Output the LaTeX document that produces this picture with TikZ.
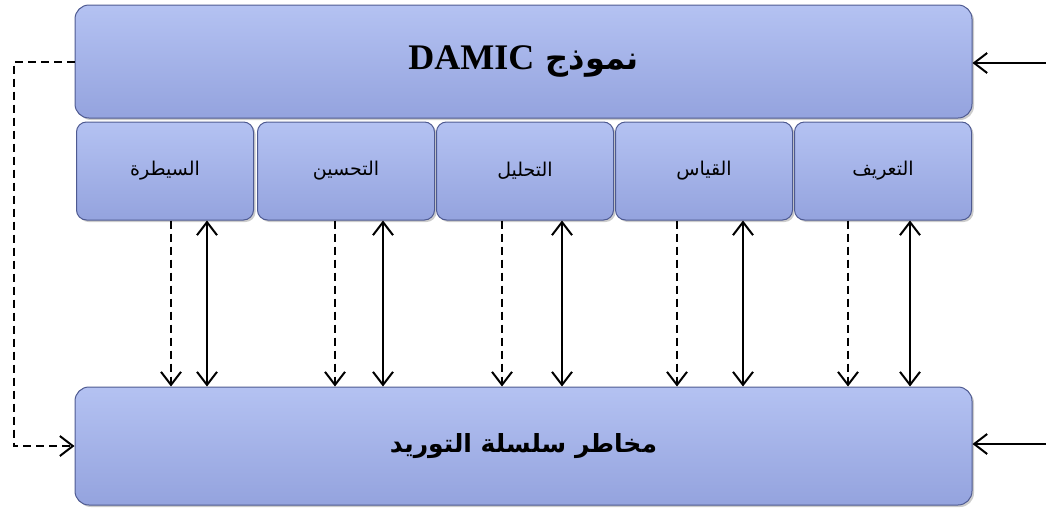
\documentclass[tikz,border=0pt]{standalone}
\usepackage{fontspec}
\setmainfont{Liberation Serif}
\newfontfamily\arabicfont[Script=Arabic]{DejaVu Sans}
\TeXXeTstate=1
\usetikzlibrary{arrows.meta,shadows}
\definecolor{boxtop}{RGB}{180,194,242}
\definecolor{boxbot}{RGB}{148,163,222}
\definecolor{boxedge}{RGB}{78,90,145}
\tikzset{
  bigbox/.style={rounded corners=14pt, top color=boxtop, bottom color=boxbot,
    draw=boxedge, line width=1pt, minimum width=897pt, inner sep=0pt,
    drop shadow={opacity=0.4, shadow xshift=2pt, shadow yshift=-2pt}},
  smallbox/.style={rounded corners=10pt, top color=boxtop, bottom color=boxbot,
    draw=boxedge, line width=1pt, minimum width=177pt, minimum height=98pt, inner sep=0pt,
    drop shadow={opacity=0.4, shadow xshift=2pt, shadow yshift=-2pt}},
  tip/.style={-{Straight Barb[length=13pt,width=20pt,line width=2pt]}},
  dtip/.style={{Straight Barb[length=13pt,width=20pt,line width=2pt]}-{Straight Barb[length=13pt,width=20pt,line width=2pt]}},
  conn/.style={line width=2pt, black},
  dconn/.style={line width=2pt, black, dash pattern=on 8pt off 5pt},
  smalltext/.style={font=\arabicfont\fontsize{19}{22}\selectfont},
}
\begin{document}
\begin{tikzpicture}[x=1pt,y=-1pt]
\useasboundingbox (0,0) rectangle (1046,509);
\node[bigbox, minimum height=113pt] (top) at (523.5,61.5)
  {\arabicfont\bfseries\fontsize{32}{36}\selectfont\beginR نموذج \beginL{\rmfamily\bfseries\fontsize{36}{40}\selectfont DAMIC}\endL\endR};
\node[bigbox, minimum height=118pt] (bottom) at (523.5,446)
  {\arabicfont\bfseries\fontsize{25}{30}\selectfont\beginR مخاطر سلسلة التوريد\endR};
\node[smallbox, smalltext] (s1) at (165,171) {\beginR السيطرة\endR};
\node[smallbox, smalltext] (s2) at (346,171) {\beginR التحسين\endR};
\node[smallbox, smalltext] (s3) at (525,171) {\beginR التحليل\endR};
\node[smallbox, smalltext] (s4) at (704,171) {\beginR القياس\endR};
\node[smallbox, smalltext] (s5) at (883,171) {\beginR التعريف\endR};
% vertical arrows
\foreach \n/\d/\s in {s1/6/42, s2/-11/37, s3/-23/37, s4/-27/39, s5/-35/27}{
  \draw[dconn, tip] ([xshift=\d pt]\n.south) -- ([xshift=\d pt]\n.south |- bottom.north);
  \draw[conn, dtip] ([xshift=\s pt]\n.south) -- ([xshift=\s pt]\n.south |- bottom.north);
}
% left dashed feedback
\draw[dconn, tip] (top.west) -- ++(-61,0) |- (bottom.west);
% right inputs
\coordinate (in1) at (1046,63);
\coordinate (in2) at (1046,444);
\draw[conn, tip] (in1) -- (in1 -| top.east);
\draw[conn, tip] (in2) -- (in2 -| bottom.east);
\end{tikzpicture}
\end{document}
